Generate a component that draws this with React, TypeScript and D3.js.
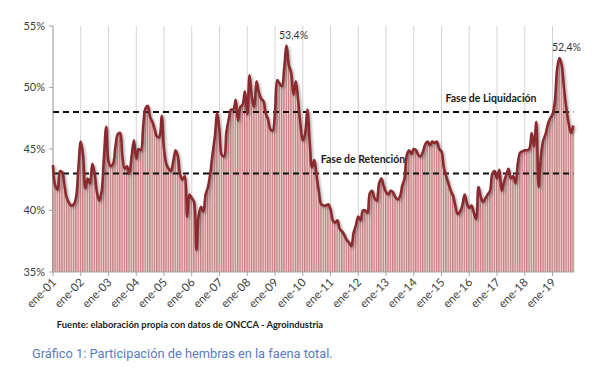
import React from "react";
import * as d3 from "d3";

const years = [2001,2002,2003,2004,2005,2006,2007,2008,2009,2010,2011,2012,2013,2014,2015,2016,2017,2018,2019];
const y2001 = [43.7, 42.0, 41.7, 43.2, 43.1, 42.0, 41.0, 40.6, 40.4, 40.5, 41.1, 43.5];
const y2002 = [45.6, 44.5, 41.8, 42.6, 42.2, 43.8, 43.0, 41.5, 40.8, 41.5, 44.2, 46.8];
const y2003 = [44.0, 43.6, 43.8, 45.2, 46.2, 46.3, 44.4, 43.4, 43.6, 43.0, 44.4, 45.7];
const y2004 = [44.2, 45.0, 44.9, 46.8, 48.3, 48.5, 47.6, 47.2, 46.6, 46.0, 46.0, 47.7];
const y2005 = [45.0, 43.8, 43.4, 43.2, 44.0, 44.9, 44.4, 42.9, 42.5, 42.8, 39.5, 41.3];
const y2006 = [41.0, 40.7, 36.8, 39.6, 40.3, 39.9, 41.3, 41.9, 43.0, 44.6, 46.0, 47.9];
const y2007 = [46.5, 44.5, 44.4, 46.4, 47.4, 48.2, 48.2, 49.0, 47.3, 48.4, 48.6, 49.7];
const y2008 = [47.8, 51.0, 49.2, 48.4, 50.5, 49.6, 49.1, 48.9, 47.9, 47.4, 46.6, 46.5];
const y2009 = [48.0, 50.6, 50.3, 50.1, 51.6, 53.4, 51.8, 51.2, 49.4, 50.5, 49.0, 47.0];
const y2010 = [45.7, 46.2, 48.2, 45.6, 43.5, 44.1, 42.8, 41.5, 40.5, 40.4, 40.4, 40.5];
const y2011 = [40.1, 39.2, 39.0, 39.2, 38.5, 38.3, 38.0, 37.6, 37.4, 37.1, 38.2, 38.8];
const y2012 = [39.5, 39.2, 40.0, 40.0, 39.8, 41.4, 41.6, 41.0, 40.8, 42.2, 42.6, 42.0];
const y2013 = [41.5, 41.3, 41.6, 41.5, 41.1, 40.9, 41.1, 42.0, 42.6, 44.5, 44.9, 44.6];
const y2014 = [45.0, 44.9, 44.5, 44.4, 44.8, 45.4, 45.6, 45.3, 45.6, 45.5, 45.6, 45.0];
const y2015 = [44.8, 43.5, 42.8, 42.2, 41.6, 41.2, 40.4, 39.7, 39.9, 40.4, 41.3, 40.6];
const y2016 = [40.2, 40.4, 39.8, 39.3, 41.9, 41.1, 40.7, 41.0, 41.3, 41.6, 43.0, 43.2];
const y2017 = [42.6, 43.3, 41.6, 42.3, 42.9, 43.4, 42.6, 42.8, 42.2, 43.8, 44.7, 44.8];
const y2018 = [44.9, 44.9, 45.0, 46.3, 45.2, 47.2, 41.9, 44.4, 45.7, 46.2, 47.0, 47.5];
const y2019 = [47.8, 48.8, 51.5, 52.4, 51.8, 49.9, 48.3, 47.1, 46.3, 46.9];

const values: number[] = [
  ...y2001, ...y2002, ...y2003, ...y2004, ...y2005, ...y2006, ...y2007, ...y2008, ...y2009, ...y2010,
  ...y2011, ...y2012, ...y2013, ...y2014, ...y2015, ...y2016, ...y2017, ...y2018, ...y2019,
];
const tickLabels = years.map((y) => "ene-" + String(y).slice(2));
const yTicks = [35, 40, 45, 50, 55];
const phaseLines = [
  { value: 48, label: "Fase de Liquidación" },
  { value: 43, label: "Fase de Retención" },
];
const peaks = [
  { index: 101, label: "53,4%" },
  { index: 219, label: "52,4%" },
];

export default function App() {
  const W = 603, H = 380;
  const x0 = 53, monthW = 27.75 / 12;
  const x = d3.scaleLinear().domain([0, values.length - 1]).range([x0, x0 + (values.length - 1) * monthW]);
  const y = d3.scaleLinear().domain([35, 55]).range([272, 26]);
  const line = d3
    .line<number>()
    .x((_, i) => x(i))
    .y((d) => y(d))
    .curve(d3.curveCatmullRom.alpha(0.5));
  const xEnd = x(values.length - 1);
  const font = "Lato, 'Open Sans', sans-serif";

  return (
    <svg width={W} height={H} style={{ position: "absolute", left: 0, top: 0, background: "#fff" }}>
      <defs>
        <filter id="sh" x="-5%" y="-5%" width="110%" height="110%">
          <feDropShadow dx="1.5" dy="1.5" stdDeviation="1" floodColor="#444" floodOpacity="0.45" />
        </filter>
      </defs>
      {/* vertical gridlines */}
      {years.map((yr, k) => (
        <line key={yr} x1={x(k * 12)} x2={x(k * 12)} y1={y(55)} y2={y(35)} stroke="#d4d4d4" strokeWidth={1} />
      ))}
      {/* bars */}
      {values.map((v, i) => (
        <g key={i}>
          <rect x={x(i) - 0.9} y={y(v)} width={1.8} height={y(35) - y(v)} fill="#dcabab" />
          <line x1={x(i) - 0.5} x2={x(i) - 0.5} y1={y(v)} y2={y(35)} stroke="#b25a5a" strokeWidth={0.6} />
        </g>
      ))}
      {/* axes */}
      <line x1={x0} x2={x0} y1={y(55)} y2={y(35)} stroke="#a6a6a6" />
      <line x1={x0} x2={xEnd + 1} y1={y(35)} y2={y(35)} stroke="#a6a6a6" />
      {yTicks.map((t) => (
        <g key={t}>
          <line x1={x0 - 4} x2={x0} y1={y(t)} y2={y(t)} stroke="#a6a6a6" />
          <text x={x0 - 8} y={y(t)} dy="0.35em" textAnchor="end" fontFamily={font} fontSize={11} fill="#404040">
            {t}%
          </text>
        </g>
      ))}
      {tickLabels.map((lab, k) => (
        <g key={lab}>
          <line x1={x(k * 12)} x2={x(k * 12)} y1={y(35)} y2={y(35) + 4} stroke="#a6a6a6" />
          <text
            transform={`translate(${x(k * 12) + 4},${y(35) + 11}) rotate(-45)`}
            textAnchor="end"
            fontFamily={font}
            fontSize={11.5}
            fill="#404040"
          >
            {lab}
          </text>
        </g>
      ))}
      {/* dashed phase lines */}
      {phaseLines.map((p) => (
        <line key={p.value} x1={x0} x2={xEnd} y1={y(p.value)} y2={y(p.value)} stroke="#111" strokeWidth={2} strokeDasharray="6,4" />
      ))}
      {/* main line */}
      <path d={line(values) || ""} fill="none" stroke="#8b2a2e" strokeWidth={2.6} filter="url(#sh)" strokeLinejoin="round" />
      {/* annotations */}
      <text x={491} y={y(48) - 10} textAnchor="middle" fontFamily={font} fontWeight="bold" fontSize={10.5} fill="#1a1a1a">
        {phaseLines[0].label}
      </text>
      <text x={363} y={y(43) - 11} textAnchor="middle" fontFamily={font} fontWeight="bold" fontSize={10.5} fill="#1a1a1a">
        {phaseLines[1].label}
      </text>
      {peaks.map((p) => (
        <text key={p.index} x={x(p.index) + 7} y={y(values[p.index]) - 7} textAnchor="middle" fontFamily={font} fontSize={10.5} fill="#333">
          {p.label}
        </text>
      ))}
      <text x={190} y={328} textAnchor="middle" fontFamily={font} fontWeight="bold" fontSize={9.4} fill="#1a1a1a">
        Fuente: elaboración propia con datos de ONCCA - Agroindustria
      </text>
      <text x={32} y={358} fontFamily="Roboto, sans-serif" fontSize={12.8} fill="#5b7bbd">
        Gráfico 1: Participación de hembras en la faena total.
      </text>
    </svg>
  );
}
